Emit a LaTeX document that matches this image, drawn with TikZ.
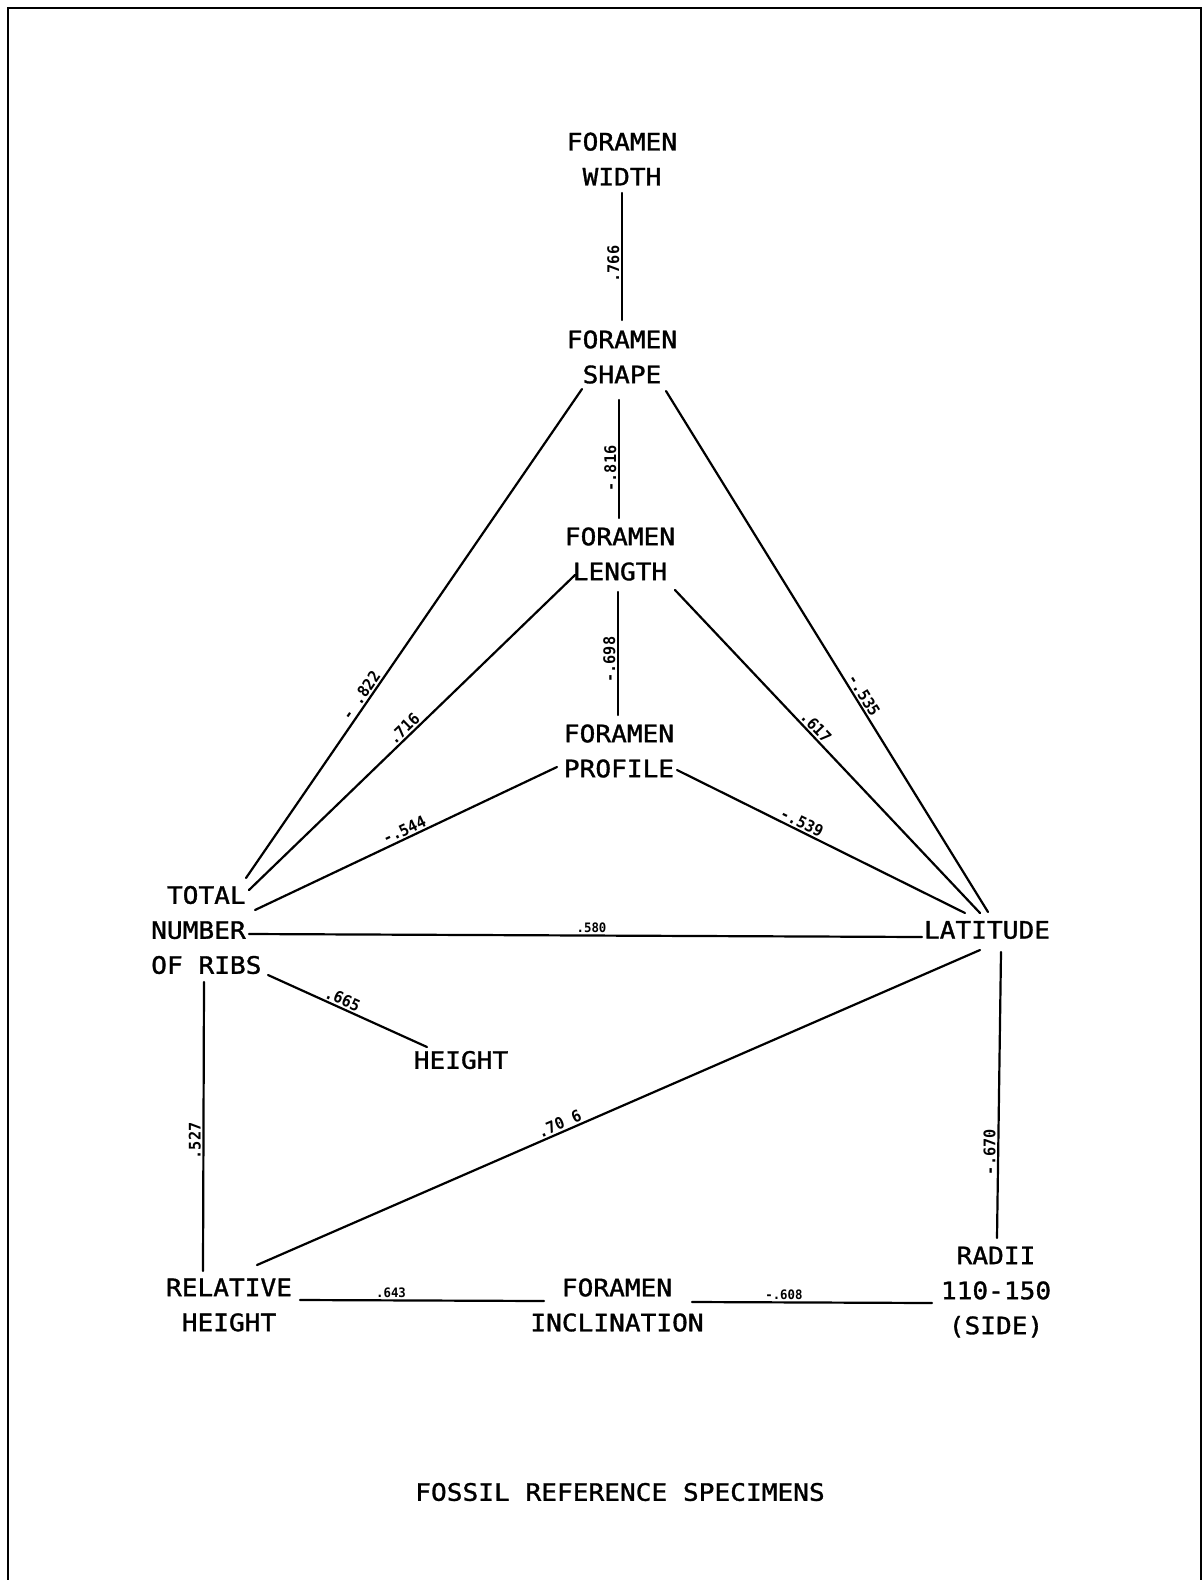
\documentclass[tikz,border=0pt]{standalone}
\usepackage{fontspec}
\newfontfamily\plotfont[FakeStretch=1.09,FakeBold=1.3]{DejaVu Sans Mono}
\newfontfamily\lblfont[FakeStretch=0.95]{DejaVu Sans Mono}
\begin{document}
\begin{tikzpicture}[x=1pt,y=-1pt,
  txt/.style={font=\plotfont\fontsize{24}{35}\selectfont, align=center, inner sep=0pt},
  lbl/.style={font=\lblfont\bfseries\fontsize{16}{16}\selectfont, inner sep=1.5pt},
  lbls/.style={font=\lblfont\bfseries\fontsize{13}{13}\selectfont, inner sep=1.5pt},
  vlbl/.style={lbl, rotate=90, anchor=south},
  slbl/.style={lbl, sloped, anchor=south},
  link/.style={line width=2.2pt, line cap=round},
  frame/.style={line width=2.2pt}]
\useasboundingbox (0,0) rectangle (1203,1580);
\draw[frame] (8,1580) -- (8,8) -- (1201,8) -- (1201,1580);

% nodes
\node[txt] (width)    at (622,159)  {FORAMEN\\WIDTH};
\node[txt] (shape)    at (622,357)  {FORAMEN\\SHAPE};
\node[txt] (length)   at (620,554)  {FORAMEN\\LENGTH};
\node[txt] (profile)  at (619,751)  {FORAMEN\\PROFILE};
\node[txt, align=left, anchor=west] (ribs) at (151,930) {\hphantom{T}TOTAL\\NUMBER\\OF RIBS};
\node[txt] (latitude) at (987,930)  {LATITUDE};
\node[txt] (height)   at (461,1060) {HEIGHT};
\node[txt] (relh)     at (229,1305) {RELATIVE\\HEIGHT};
\node[txt] (incl)     at (617,1305) {FORAMEN\\INCLINATION};
\node[txt] (radii)    at (996,1292) {RADII\\110-150\\(SIDE)};
\node[txt] (title)    at (620,1492) {FOSSIL REFERENCE SPECIMENS};

% connectors with their labels
\draw[link] ([shift={(0,34)}]width.center) --
  node[vlbl, pos=0.56] (l766) {.766} ([shift={(0,-37)}]shape.center);
\draw[link] ([shift={(-3,43)}]shape.center) --
  node[vlbl, pos=0.58] (l816) {-.816} ([shift={(-1,-36)}]length.center);
\draw[link] ([shift={(-2,38)}]length.center) --
  node[vlbl, pos=0.55] (l698) {-.698} ([shift={(-1,-36)}]profile.center);
\draw[link] ([shift={(-40,32)}]shape.center) --
  node[slbl, pos=0.637] (l822) {- .822} ([shift={(95,-52)}]ribs.west);
\draw[link] ([shift={(-45,21)}]length.center) --
  node[slbl, pos=0.507] (l716) {.716} ([shift={(98,-40)}]ribs.west);
\draw[link] ([shift={(-62,16)}]profile.center) --
  node[slbl, pos=0.494] (l544) {-.544} ([shift={(104,-20)}]ribs.west);
\draw[link] ([shift={(44,34)}]shape.center) --
  node[slbl, pos=0.5925] (l535) {-.535} ([shift={(1,-18)}]latitude.center);
\draw[link] ([shift={(55,36)}]length.center) --
  node[slbl, pos=0.442] (l617) {.617} ([shift={(-7,-17)}]latitude.center);
\draw[link] ([shift={(58,19)}]profile.center) --
  node[slbl, pos=0.42] (l539) {-.539} ([shift={(-22,-17)}]latitude.center);
\draw[link] ([shift={(98,4)}]ribs.west) --
  node[lbls, anchor=south, pos=0.509] (l580) {.580} ([shift={(-65,7)}]latitude.center);
\draw[link] ([shift={(117,45)}]ribs.west) --
  node[slbl, pos=0.448] (l665) {.665} ([shift={(-34,-13)}]height.center);
\draw[link] ([shift={(53,52)}]ribs.west) --
  node[vlbl, pos=0.55] (l527) {.527} ([shift={(-26,-34)}]relh.center);
\draw[link] ([shift={(-7,20)}]latitude.center) --
  node[slbl, pos=0.577] (l706) {.70 6} ([shift={(28,-40)}]relh.center);
\draw[link] ([shift={(14,22)}]latitude.center) --
  node[vlbl, pos=0.70] (l670) {-.670} ([shift={(1,-54)}]radii.center);
\draw[link] ([shift={(71,-5)}]relh.center) --
  node[lbls, anchor=south, pos=0.373] (l643) {.643} ([shift={(-73,-4)}]incl.center);
\draw[link] ([shift={(75,-3)}]incl.center) --
  node[lbls, anchor=south, pos=0.383] (l608) {-.608} ([shift={(-64,11)}]radii.center);
\end{tikzpicture}
\end{document}
